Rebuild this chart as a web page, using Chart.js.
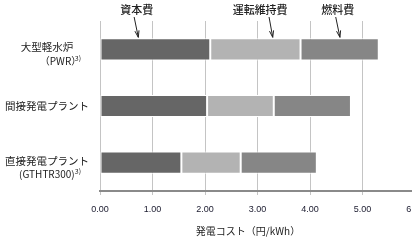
<!DOCTYPE html>
<html>
<head>
<meta charset="utf-8">
<script src="https://cdn.jsdelivr.net/npm/chart.js@4/dist/chart.umd.min.js"></script>
<style>
  html, body { margin: 0; padding: 0; background: #fff; }
  #wrap { width: 412px; height: 245px; overflow: hidden; }
</style>
</head>
<body>
<div id="wrap"><canvas id="chart" width="440" height="245"></canvas></div>
<script>
// categories and values (円/kWh)
const categories = ["大型軽水炉", "間接発電プラント", "直接発電プラント"];
const subLabels = ["（PWR）", "", "(GTHTR300)"];
const subNotes = ["3)", "", "3)"];
const seriesNames = ["資本費", "運転維持費", "燃料費"];
const capital = [2.10, 2.04, 1.55];
const operation = [1.72, 1.27, 1.13];
const fuel = [1.49, 1.47, 1.45];
const xMin = 0, xMax = 6, xStep = 1;
const xTitle = "発電コスト（円/kWh）";

// callout labels above the first bar: text position, arrow tail and tip (x values)
const calloutTextX = [0.70, 3.05, 4.53];
const calloutTailX = [0.65, 3.22, 4.49];
const calloutTipX = [0.73, 3.29, 4.57];

const cjk = '"Noto Sans CJK JP", sans-serif';

const labelPlugin = {
  id: "labels",
  afterDraw(chart) {
    const c = chart.ctx;
    const x = chart.scales.x;
    const y = chart.scales.y;
    c.save();
    c.fillStyle = "#222";
    c.textBaseline = "middle";

    // category labels
    categories.forEach((name, i) => {
      const cy = y.getPixelForValue(i);
      c.font = "10.5px " + cjk;
      c.textAlign = "center";
      if (subLabels[i]) {
        c.fillText(name, 47, cy - 2);
        c.textAlign = "left";
        c.font = "7px " + cjk;
        const nw = c.measureText(subNotes[i]).width;
        c.font = "10px " + cjk;
        const lw = c.measureText(subLabels[i]).width;
        const kern = subLabels[i].endsWith("）") ? 6.5 : 0;
        const left = 81 - nw - lw + kern;
        c.fillText(subLabels[i], left, cy + 12);
        c.font = "7px " + cjk;
        c.fillText(subNotes[i], left + lw - kern, cy + 9);
      } else {
        c.fillText(name, 47, cy);
      }
    });

    // callouts
    const barTop = y.getPixelForValue(0) - 11;
    seriesNames.forEach((name, i) => {
      c.font = "500 11px " + cjk;
      c.textAlign = "center";
      c.fillStyle = "#222";
      c.fillText(name, x.getPixelForValue(calloutTextX[i]), 10);
      const x0 = x.getPixelForValue(calloutTailX[i]), y0 = 17;
      const x1 = x.getPixelForValue(calloutTipX[i]), y1 = barTop - 1;
      c.strokeStyle = "#222";
      c.lineWidth = 1;
      c.beginPath();
      c.moveTo(x0, y0);
      c.lineTo(x1, y1);
      const ang = Math.atan2(y1 - y0, x1 - x0);
      c.moveTo(x1, y1);
      c.lineTo(x1 - 7 * Math.cos(ang - 0.3), y1 - 7 * Math.sin(ang - 0.3));
      c.moveTo(x1, y1);
      c.lineTo(x1 - 7 * Math.cos(ang + 0.3), y1 - 7 * Math.sin(ang + 0.3));
      c.stroke();
    });

    // axis title
    c.font = "10px " + cjk;
    c.textAlign = "center";
    c.fillStyle = "#222";
    c.fillText(xTitle, 248, 231);
    c.restore();
  }
};

new Chart(document.getElementById("chart"), {
  type: "bar",
  data: {
    labels: categories,
    datasets: [
      { label: seriesNames[0], data: capital, backgroundColor: "#666666" },
      { label: seriesNames[1], data: operation, backgroundColor: "#b3b3b3" },
      { label: seriesNames[2], data: fuel, backgroundColor: "#868686" }
    ]
  },
  options: {
    indexAxis: "y",
    responsive: false,
    animation: false,
    layout: { padding: { top: 21, right: 25 } },
    datasets: {
      bar: {
        barPercentage: 0.39,
        categoryPercentage: 1,
        borderColor: "#ffffff",
        borderWidth: 1,
        borderSkipped: false
      }
    },
    plugins: {
      legend: { display: false },
      tooltip: { enabled: false }
    },
    scales: {
      x: {
        stacked: true,
        min: xMin,
        max: xMax,
        afterFit(scale) { scale.height = 54; },
        ticks: {
          stepSize: xStep,
          color: "#1a1a2e",
          font: { family: '"Liberation Sans", Arial, sans-serif', size: 9 },
          padding: 9,
          callback: v => v.toFixed(2)
        },
        grid: { color: "#c4c4c4", lineWidth: 1, tickLength: 4 },
        border: { color: "#8a8a8a", width: 2 }
      },
      y: {
        stacked: true,
        afterFit(scale) { scale.width = 100; },
        ticks: { display: false },
        grid: { display: false },
        border: { display: false }
      }
    }
  },
  plugins: [labelPlugin]
});
</script>
</body>
</html>
